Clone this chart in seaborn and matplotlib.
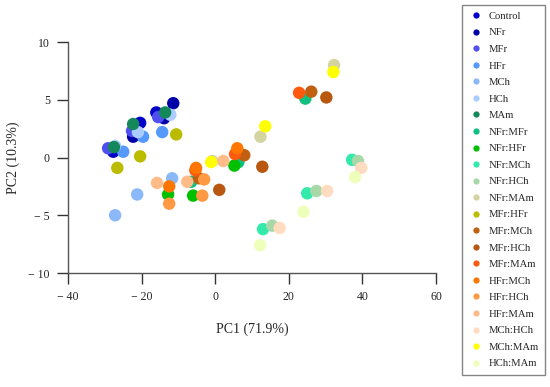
import pandas as pd
import matplotlib.pyplot as plt
import seaborn as sns
from matplotlib.lines import Line2D

# groups (3 replicates each)
groups = ["Control", "NFr", "MFr", "HFr", "MCh", "HCh", "MAm",
          "NFr:MFr", "NFr:HFr", "NFr:MCh", "NFr:HCh", "NFr:MAm",
          "MFr:HFr", "MFr:MCh", "MFr:HCh", "MFr:MAm", "HFr:MCh",
          "HFr:HCh", "HFr:MAm", "MCh:HCh", "MCh:MAm", "HCh:MAm"]

colors = ["#0000c8", "#0000a8", "#5050f0", "#5599ff", "#8ab8f8", "#aaccff",
          "#14885a", "#10c080", "#00c000", "#33eaaa", "#a8d8a8", "#d4d4a0",
          "#bbbb00", "#c06010", "#b85810", "#ff5a10", "#ff7700",
          "#ff9944", "#ffbb88", "#ffdcc0", "#ffff00", "#eeffbb"]

pc1 = [
    [-16.0, -20.4, -27.7],   # Control
    [-11.4, -13.9, -22.3],   # NFr
    [-15.5, -22.6, -29.1],   # MFr
    [-14.4, -19.6, -25.0],   # HFr
    [-27.2, -21.2, -11.7],   # MCh
    [-27.2, -12.2, -21.0],   # HCh
    [-13.6, -22.3, -27.5],   # MAm
    [-6.5, 6.3, 24.5],       # NFr:MFr
    [-12.8, -6.0, 5.2],      # NFr:HFr
    [37.2, 25.0, 13.0],      # NFr:MCh
    [38.8, 27.5, 15.5],      # NFr:HCh
    [32.3, 12.3, -0.8],      # NFr:MAm
    [-10.6, -20.4, -26.6],   # MFr:HFr
    [-4.4, 7.9, 26.1],       # MFr:MCh
    [1.1, 12.8, 30.2],       # MFr:HCh
    [-5.4, 5.4, 22.8],       # MFr:MAm
    [-12.5, 6.0, -5.2],      # HFr:MCh
    [-12.5, -3.5, -3.0],     # HFr:HCh
    [-15.8, -7.6, 2.2],      # HFr:MAm
    [39.7, 30.4, 17.5],      # MCh:HCh
    [32.1, 13.6, -1.1],      # MCh:MAm
    [38.0, 24.0, 12.2],      # HCh:MAm
]

pc2 = [
    [3.9, 3.0, 0.5],
    [4.7, 3.4, 1.8],
    [3.5, 2.3, 0.8],
    [2.2, 1.8, 0.5],
    [-5.0, -3.2, -1.8],
    [1.0, 3.7, 2.2],
    [3.9, 2.9, 0.9],
    [-2.1, -0.4, 5.1],
    [-3.2, -3.3, -0.7],
    [-0.2, -3.1, -6.2],
    [-0.3, -2.9, -5.9],
    [8.0, 1.8, -0.3],
    [2.0, 0.1, -0.9],
    [-1.8, 0.2, 5.7],
    [-2.8, -0.8, 5.2],
    [-1.1, 0.3, 5.6],
    [-2.5, 0.8, -0.9],
    [-4.0, -3.3, -1.9],
    [-2.2, -2.1, -0.3],
    [-0.9, -2.9, -6.1],
    [7.4, 2.7, -0.4],
    [-1.7, -4.7, -7.6],
]

xticks = [-40, -20, 0, 20, 40, 60]
xticklabels = ["\u2212 40", "\u2212 20", "0", "20", "40", "60"]
yticks = [-10, -5, 0, 5, 10]
yticklabels = ["\u2212 10", "\u2212 5", "0", "5", "10"]

rows = []
for g, xs, ys in zip(groups, pc1, pc2):
    for x, y in zip(xs, ys):
        rows.append({"group": g, "PC1": x, "PC2": y})
df = pd.DataFrame(rows)

sns.set_style("ticks")
plt.rcParams['font.family'] = ['Liberation Serif', 'DejaVu Serif']

fig = plt.figure(figsize=(5.5, 3.87), dpi=100)
ax = fig.add_axes([68 / 550, 1 - 273 / 387, 368 / 550, 231 / 387])

sns.scatterplot(data=df, x="PC1", y="PC2", hue="group", hue_order=groups,
                palette=colors, s=80, linewidth=0, alpha=1, legend=False,
                ax=ax, clip_on=False)

ax.set_xlim(-40, 60)
ax.set_ylim(-10, 10)
ax.set_xticks(xticks)
ax.set_xticklabels(xticklabels)
ax.set_yticks(yticks)
ax.set_yticklabels(yticklabels)
ax.tick_params(direction="out", length=8, width=1, labelsize=8.5, colors="#333333", pad=5)
for lab in ax.get_xticklabels() + ax.get_yticklabels():
    lab.set_color("#222222")
sns.despine(ax=ax)
for sp in ["left", "bottom"]:
    ax.spines[sp].set_color("#555555")
    ax.spines[sp].set_linewidth(1)

ax.set_xlabel("PC1 (71.9%)", fontsize=10, labelpad=14)
ax.set_ylabel("PC2 (10.3%)", fontsize=10, labelpad=6)

handles = [Line2D([0], [0], marker="o", linestyle="none", markersize=4.5,
                  markerfacecolor=c, markeredgewidth=0, label=g)
           for g, c in zip(groups, colors)]
fig.legend(handles=handles, loc="upper left", bbox_to_anchor=(462 / 550, 1 - 5 / 387),
           frameon=True, fancybox=False, edgecolor="#666666", fontsize=7.7,
           labelspacing=0.66, handletextpad=0.35, handlelength=1.5,
           borderpad=0.6, borderaxespad=0)

fig.savefig("out.png", dpi=100)
